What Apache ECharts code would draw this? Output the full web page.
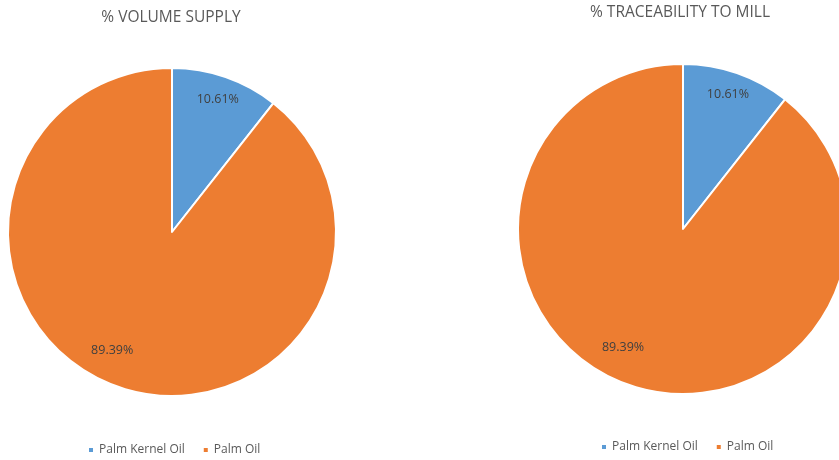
<!DOCTYPE html>
<html><head><meta charset="utf-8">
<script src="https://cdn.jsdelivr.net/npm/echarts@6/dist/echarts.min.js"></script>
<style>html,body{margin:0;padding:0;background:#fff}#c{width:839px;height:460px}</style>
</head><body><div id="c"></div>
<script>
const categories = ['Palm Kernel Oil', 'Palm Oil'];
const volumeSupply = [10.61, 89.39];
const traceabilityToMill = [10.61, 89.39];
const titles = ['% VOLUME SUPPLY', '% TRACEABILITY TO MILL'];

const colors = ['#5B9BD5', '#ED7D31'];
const font = '"Open Sans", "Liberation Sans", sans-serif';

function makeData(vals, offsets) {
  return categories.map((name, i) => ({
    name: name,
    value: vals[i],
    itemStyle: { color: colors[i] },
    label: { offset: offsets[i] }
  }));
}

const chart = echarts.init(document.getElementById('c'), null, { renderer: 'canvas' });
chart.setOption({
  animation: false,
  backgroundColor: '#fff',
  title: [
    { text: titles[0], left: 171, top: 10, textAlign: 'center', padding: 0,
      textStyle: { fontFamily: font, fontSize: 15.5, fontWeight: 'normal', color: '#595959' } },
    { text: titles[1], left: 680, top: 5, textAlign: 'center', padding: 0,
      textStyle: { fontFamily: font, fontSize: 15.5, fontWeight: 'normal', color: '#595959' } }
  ],
  legend: [
    { data: categories, left: 87, top: 444, padding: 0, itemWidth: 6, itemHeight: 6, itemGap: 17, icon: 'rect',
      textStyle: { fontFamily: font, fontSize: 12, color: '#595959' } },
    { data: categories, left: 600, top: 441, padding: 0, itemWidth: 6, itemHeight: 6, itemGap: 17, icon: 'rect',
      textStyle: { fontFamily: font, fontSize: 12, color: '#595959' } }
  ],
  series: [
    {
      type: 'pie', center: [172, 232], radius: [0, 164], startAngle: 90,
      clockwise: true, avoidLabelOverlap: false,
      itemStyle: { borderColor: '#fff', borderWidth: 2 },
      label: { show: true, position: 'inside', formatter: p => p.value.toFixed(2) + '%',
        fontFamily: font, fontSize: 12.5, color: '#404040' },
      labelLine: { show: false },
      emphasis: { disabled: true },
      data: makeData(volumeSupply, [[18, -52], [-32, 38]])
    },
    {
      type: 'pie', center: [683, 229], radius: [0, 165], startAngle: 90,
      clockwise: true, avoidLabelOverlap: false,
      itemStyle: { borderColor: '#fff', borderWidth: 2 },
      label: { show: true, position: 'inside', formatter: p => p.value.toFixed(2) + '%',
        fontFamily: font, fontSize: 12.5, color: '#404040' },
      labelLine: { show: false },
      emphasis: { disabled: true },
      data: makeData(traceabilityToMill, [[17, -54], [-32, 38]])
    }
  ]
});
</script></body></html>
